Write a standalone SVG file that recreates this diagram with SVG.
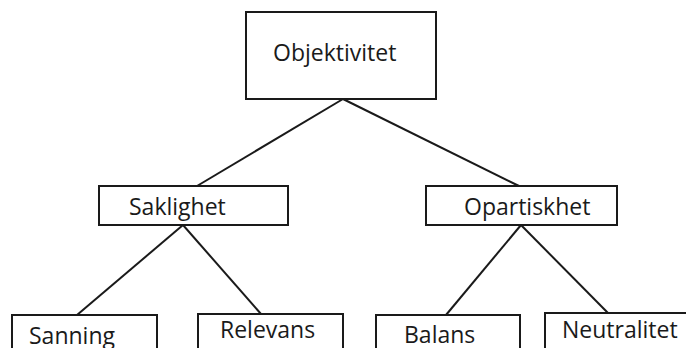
<svg xmlns="http://www.w3.org/2000/svg" width="686" height="348" viewBox="0 0 686 348">
<style>
.box{fill:#fff;stroke:#1a1a1a;stroke-width:2}
.lbl{font-family:"Open Sans","Noto Sans",sans-serif;font-size:23px;fill:#1a1a1a}
.con line{stroke:#1a1a1a;stroke-width:2}
</style>
<rect width="686" height="348" fill="#fff"/>
<g class="con" id="connectors">
<line x1="343" y1="99" x2="197" y2="186"/>
<line x1="343" y1="99" x2="519" y2="186"/>
<line x1="183" y1="225" x2="77" y2="315"/>
<line x1="183" y1="225" x2="261" y2="314"/>
<line x1="521" y1="225" x2="446" y2="315"/>
<line x1="521" y1="225" x2="608" y2="313"/>
</g>
<g id="objektivitet"><rect class="box" x="246" y="12" width="190" height="87"/><text class="lbl" x="273" y="61">Objektivitet</text></g>
<g id="saklighet"><rect class="box" x="99" y="186" width="189" height="39"/><text class="lbl" x="129" y="215">Saklighet</text></g>
<g id="opartiskhet"><rect class="box" x="426" y="186" width="191" height="39"/><text class="lbl" x="464" y="215">Opartiskhet</text></g>
<g id="sanning"><rect class="box" x="12" y="315" width="145" height="50"/><text class="lbl" x="29" y="344">Sanning</text></g>
<g id="relevans"><rect class="box" x="198" y="314" width="145" height="50"/><text class="lbl" x="220" y="338">Relevans</text></g>
<g id="balans"><rect class="box" x="376" y="315" width="144" height="50"/><text class="lbl" x="404" y="343">Balans</text></g>
<g id="neutralitet"><rect class="box" x="545" y="313" width="160" height="50"/><text class="lbl" x="562" y="338">Neutralitet</text></g>
</svg>
